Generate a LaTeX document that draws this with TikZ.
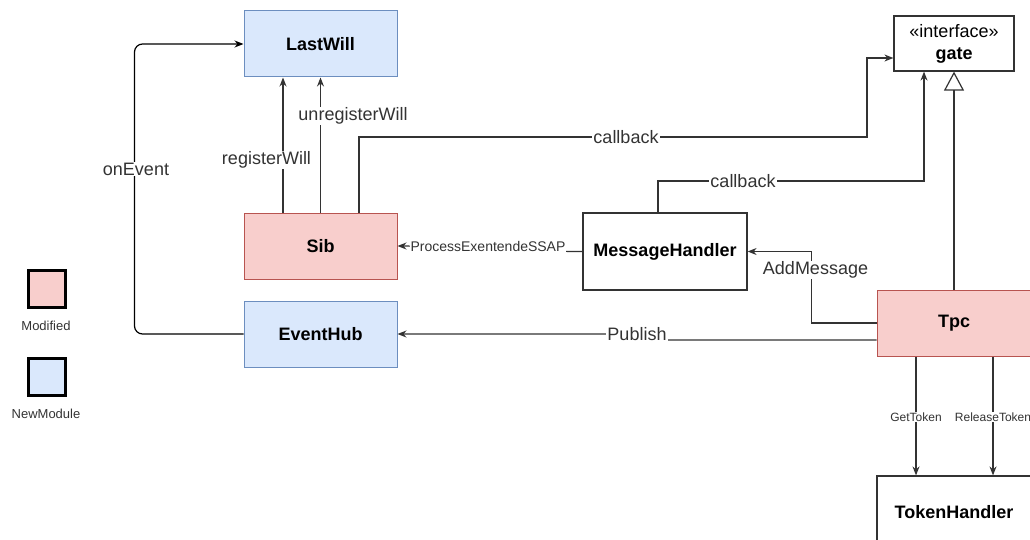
\documentclass[tikz,border=0pt]{standalone}
\usepackage{fontspec}
\setmainfont{Liberation Sans}
\usetikzlibrary{arrows.meta}
\definecolor{pinkfill}{HTML}{F8CECC}
\definecolor{pinkdraw}{HTML}{B85450}
\definecolor{bluefill}{HTML}{DAE8FC}
\definecolor{bluedraw}{HTML}{6C8EBF}
\definecolor{linec}{HTML}{333333}
\definecolor{txtc}{HTML}{333333}
\tikzset{
  box/.style={draw, line width=1pt, inner sep=0pt, font=\fontsize{18}{21}\selectfont\bfseries},
  modbox/.style={box, fill=pinkfill, draw=pinkdraw},
  newbox/.style={box, fill=bluefill, draw=bluedraw},
  plainbox/.style={box, fill=white, draw=linec, line width=1.2pt},
  arr/.style={draw=linec, line width=1.2pt, -{Stealth[length=9pt,width=7pt]}},
  inh/.style={draw=linec, line width=1.2pt, -{Triangle[open,length=19pt,width=20pt,fill=white]}},
  lbl/.style={fill=white, inner sep=1pt, text=txtc, font=\fontsize{18}{20}\selectfont},
  slbl/.style={fill=white, inner sep=1pt, text=txtc, font=\fontsize{14}{16}\selectfont},
  tlbl/.style={fill=white, inner sep=1pt, text=txtc, font=\fontsize{12}{14}\selectfont},
  legendbox/.style={draw=black, line width=3pt, minimum width=37pt, minimum height=37pt, inner sep=0pt},
  legendtxt/.style={text=txtc, font=\fontsize{13}{15}\selectfont, inner sep=0pt}
}
\begin{document}
\begin{tikzpicture}[x=1pt,y=-1pt]
\useasboundingbox (0,0) rectangle (1030,540);
% nodes
\node[newbox, minimum width=153pt, minimum height=66pt] (lastwill) at (320.5,44) {LastWill};
\node[modbox, minimum width=153pt, minimum height=66pt] (sib) at (320.5,246) {Sib};
\node[newbox, minimum width=153pt, minimum height=66pt] (eventhub) at (320.5,334) {EventHub};
\node[plainbox, minimum width=120pt, minimum height=55pt, align=center] (gate) at (954,43.5) {{\mdseries «interface»}\\[1pt]gate};
\node[plainbox, minimum width=164pt, minimum height=77pt] (mh) at (665,251.5) {MessageHandler};
\node[modbox, minimum width=154pt, minimum height=66pt] (tpc) at (954,323) {Tpc};
\node[plainbox, minimum width=154pt, minimum height=72pt] (th) at (954,512) {TokenHandler};
% legend
\node[legendbox, fill=pinkfill] (lmod) at (47,289) {};
\node[legendtxt] (lmodt) at (46,326) {Modified};
\node[legendbox, fill=bluefill] (lnew) at (47,377) {};
\node[legendtxt] (lnewt) at (46,414) {NewModule};
% connectors
\draw[arr, rounded corners=8pt, draw=black] (eventhub.west) -- ++(-109,0) |- (lastwill.west);
\node[lbl] (oel) at (136,169) {onEvent};
\draw[arr] ([xshift=-37.5pt]sib.north) -- ([xshift=-37.5pt]lastwill.south);
\node[lbl] (rwl) at (266.5,160) {registerWill};
\draw[arr] (sib.north) -- (lastwill.south);
\node[lbl] (uwl) at (353,116) {unregisterWill};
\coordinate (c1a) at (359,137);
\coordinate (c1b) at (867,137);
\coordinate (c1c) at (867,58);
\draw[arr] ([xshift=38.5pt]sib.north) -- (c1a) -- (c1b) -- (c1c) -- ([yshift=-14.5pt]gate.west);
\node[lbl] (cb1) at (626,137) {callback};
\coordinate (c2a) at (658,181);
\coordinate (c2b) at (924,181);
\draw[arr] ([xshift=-7pt]mh.north) -- (c2a) -- (c2b) -- ([xshift=-30pt]gate.south);
\node[lbl] (cb2) at (743,181) {callback};
\coordinate (p1) at (570,251.5);
\coordinate (p2) at (406,246);
\draw[arr] (mh.west) -- (p1) -- (p2) -- (sib.east);
\node[slbl] (pel) at (488,246) {ProcessExentendeSSAP};
\draw[arr] (tpc.west) -- ++(-65,0) |- (mh.east);
\node[lbl] (aml) at (815.5,270) {AddMessage};
\coordinate (q1) at (667,340);
\coordinate (q2) at (607,334);
\draw[arr] ([yshift=-17pt]tpc.west) -- (q1) -- (q2) -- (eventhub.east);
\node[lbl] (pbl) at (637,334) {Publish};
\draw[inh] (tpc.north) -- (gate.south);
\draw[arr] ([xshift=-38pt]tpc.south) -- ([xshift=-38pt]th.north);
\node[tlbl] (gtl) at (916,417) {GetToken};
\draw[arr] ([xshift=39pt]tpc.south) -- ([xshift=39pt]th.north);
\node[tlbl] (rtl) at (993,417) {ReleaseToken};
\end{tikzpicture}
\end{document}
